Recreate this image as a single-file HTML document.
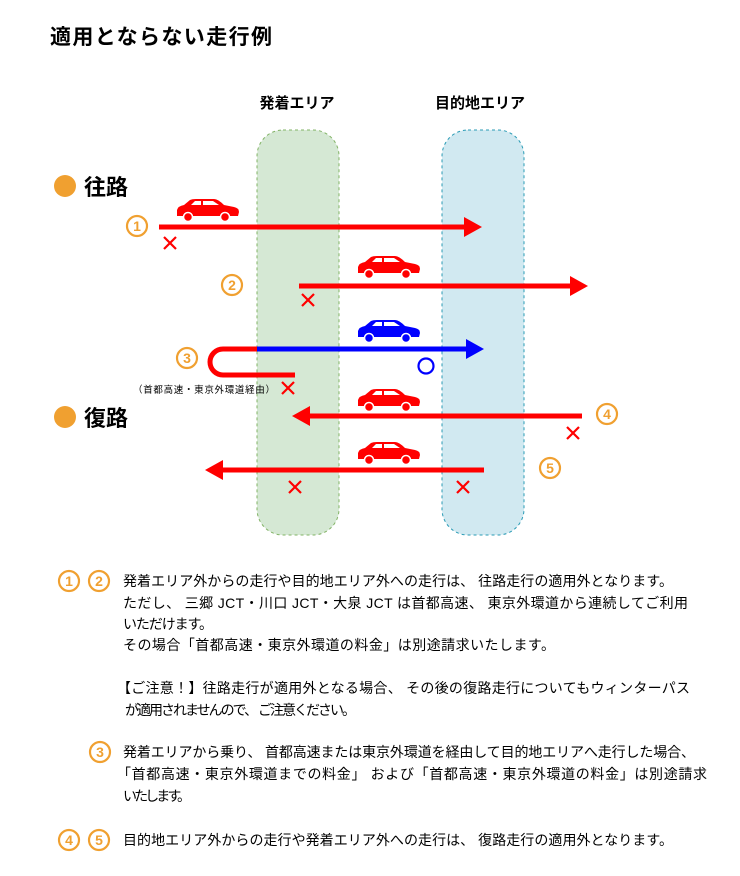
<!DOCTYPE html>
<html><head><meta charset="utf-8"><style>
body{margin:0;background:#fff;width:740px;height:876px;overflow:hidden;font-family:"Liberation Sans","Noto Sans CJK JP",sans-serif;}
svg{position:absolute;left:0;top:0}
.t{font-family:"Liberation Sans","Noto Sans CJK JP",sans-serif;}
</style></head><body>
<svg width="740" height="876" viewBox="0 0 740 876" xmlns="http://www.w3.org/2000/svg">
<defs>
<g id="car">
<path d="M1,17 L1,11 Q2,7 8,6 L14,1 Q16,0 20,0 L38,0 Q42,0 48,6 L58,8 Q63,9 63,13 L62,17 Z"/>
<path d="M15,6 L19,2 L25,2 L25,6 Z M27,2 L37,2 L43,6 L27,6 Z" fill="#fff"/>
<circle cx="12" cy="18" r="4.5" stroke="#fff" stroke-width="1.5"/>
<circle cx="49" cy="18" r="4.5" stroke="#fff" stroke-width="1.5"/>
</g>
<g id="x"><path d="M-6,-6 L6,6 M6,-6 L-6,6" stroke="#f00" stroke-width="2.2"/></g>
</defs>
<text x="50" y="44" class="t" font-size="21" font-weight="bold" fill="#000" textLength="222">適用とならない走行例</text>
<text x="297" y="108" class="t" font-size="15" font-weight="bold" text-anchor="middle">発着エリア</text>
<text x="480" y="108" class="t" font-size="15" font-weight="bold" text-anchor="middle">目的地エリア</text>
<rect x="257" y="130" width="82" height="405" rx="26" fill="#d5e8d4" stroke="#82b366" stroke-dasharray="3,3"/>
<rect x="442" y="130" width="82" height="405" rx="26" fill="#d1e9f1" stroke="#2a9bb5" stroke-dasharray="3,3"/>
<circle cx="65" cy="186" r="11" fill="#f0a030"/>
<text x="84" y="195" class="t" font-size="22" font-weight="bold">往路</text>
<circle cx="65" cy="417" r="11" fill="#f0a030"/>
<text x="84" y="426" class="t" font-size="22" font-weight="bold">復路</text>
<g class="t" font-weight="bold" fill="#f0a030" text-anchor="middle" font-size="14">
<circle cx="137" cy="226" r="10" fill="none" stroke="#f0a030" stroke-width="2.2"/><text x="137" y="231">1</text>
<circle cx="232" cy="285" r="10" fill="none" stroke="#f0a030" stroke-width="2.2"/><text x="232" y="290">2</text>
<circle cx="187" cy="358" r="10" fill="none" stroke="#f0a030" stroke-width="2.2"/><text x="187" y="363">3</text>
<circle cx="607" cy="414" r="10" fill="none" stroke="#f0a030" stroke-width="2.2"/><text x="607" y="419">4</text>
<circle cx="550" cy="468" r="10" fill="none" stroke="#f0a030" stroke-width="2.2"/><text x="550" y="473">5</text>
</g>
<use href="#car" x="176" y="199" fill="#f00"/>
<line x1="159" y1="227" x2="468" y2="227" stroke="#f00" stroke-width="5"/>
<path d="M464,217 L482,227 L464,237 Z" fill="#f00"/>
<use href="#x" x="170" y="243"/>
<use href="#car" x="357" y="256" fill="#f00"/>
<line x1="299" y1="286" x2="574" y2="286" stroke="#f00" stroke-width="5"/>
<path d="M570,276 L588,286 L570,296 Z" fill="#f00"/>
<use href="#x" x="308" y="300"/>
<use href="#car" x="357" y="320" fill="#00f"/>
<path d="M257,349 L223,349 A13,13 0 0 0 223,375 L295,375" fill="none" stroke="#f00" stroke-width="5"/>
<line x1="257" y1="349" x2="470" y2="349" stroke="#00f" stroke-width="5"/>
<path d="M466,339 L484,349 L466,359 Z" fill="#00f"/>
<circle cx="426" cy="366" r="7.5" fill="none" stroke="#00f" stroke-width="2.2"/>
<text x="133" y="393" class="t" font-size="9.5" textLength="142">（首都高速・東京外環道経由）</text>
<use href="#x" x="288" y="388"/>
<use href="#car" x="357" y="389" fill="#f00"/>
<line x1="582" y1="416" x2="305" y2="416" stroke="#f00" stroke-width="5"/>
<path d="M310,406 L292,416 L310,426 Z" fill="#f00"/>
<use href="#x" x="573" y="433"/>
<use href="#car" x="357" y="442" fill="#f00"/>
<line x1="484" y1="470" x2="218" y2="470" stroke="#f00" stroke-width="5"/>
<path d="M223,460 L205,470 L223,480 Z" fill="#f00"/>
<use href="#x" x="295" y="487"/>
<use href="#x" x="463" y="487"/>
<g class="t" font-size="14" font-weight="bold" fill="#f0a030" text-anchor="middle">
<circle cx="69" cy="581" r="10" fill="none" stroke="#f0a030" stroke-width="2.2"/><text x="69" y="586">1</text>
<circle cx="99" cy="581" r="10" fill="none" stroke="#f0a030" stroke-width="2.2"/><text x="99" y="586">2</text>
<circle cx="100" cy="752" r="10" fill="none" stroke="#f0a030" stroke-width="2.2"/><text x="100" y="757">3</text>
<circle cx="69" cy="840" r="10" fill="none" stroke="#f0a030" stroke-width="2.2"/><text x="69" y="845">4</text>
<circle cx="99" cy="840" r="10" fill="none" stroke="#f0a030" stroke-width="2.2"/><text x="99" y="845">5</text>
</g>
<g class="t" font-size="14" fill="#000">
<text x="123" y="586" textLength="550">発着エリア外からの走行や目的地エリア外への走行は、 往路走行の適用外となります。</text>
<text x="123" y="608" textLength="565">ただし、 三郷 JCT・川口 JCT・大泉 JCT は首都高速、 東京外環道から連続してご利用</text>
<text x="123" y="629" textLength="90">いただけます。</text>
<text x="123" y="650" textLength="432">その場合「首都高速・東京外環道の料金」は別途請求いたします。</text>
<text x="117" y="693" textLength="573">【ご注意！】往路走行が適用外となる場合、 その後の復路走行についてもウィンターパス</text>
<text x="125" y="715" textLength="231">が適用されませんので、 ご注意ください。</text>
<text x="123" y="757" textLength="572">発着エリアから乗り、 首都高速または東京外環道を経由して目的地エリアへ走行した場合、</text>
<text x="117" y="779" textLength="590">「首都高速・東京外環道までの料金」 および「首都高速・東京外環道の料金」は別途請求</text>
<text x="123" y="801" textLength="68">いたします。</text>
<text x="123" y="845" textLength="550">目的地エリア外からの走行や発着エリア外への走行は、 復路走行の適用外となります。</text>
</g>
</svg>
</body></html>
